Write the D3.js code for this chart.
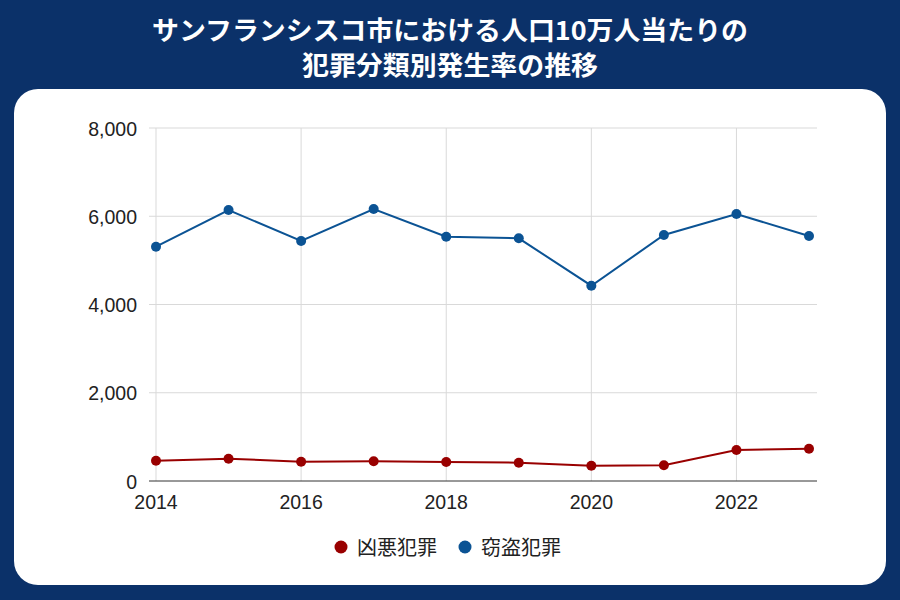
<!DOCTYPE html>
<html><head><meta charset="utf-8">
<script src="https://cdn.jsdelivr.net/npm/d3@7/dist/d3.min.js"></script>
<style>
html,body{margin:0;padding:0;background:#0b3169;}
svg{display:block;}
</style></head>
<body><svg id="c" width="900" height="600"></svg>
<script>
const titleLines = ["サンフランシスコ市における人口10万人当たりの", "犯罪分類別発生率の推移"];
const years = [2014, 2015, 2016, 2017, 2018, 2019, 2020, 2021, 2022, 2023];
const violent = [460, 505, 437, 446, 430, 415, 347, 356, 702, 732];
const theft = [5310, 6142, 5439, 6164, 5537, 5500, 4426, 5575, 6051, 5552];
const seriesNames = ["凶悪犯罪", "窃盗犯罪"];
const seriesColors = ["#990000", "#0b5394"];
const yTicks = [0, 2000, 4000, 6000, 8000];
const xTicks = [2014, 2016, 2018, 2020, 2022];

const svg = d3.select("#c");
svg.append("rect").attr("width",900).attr("height",600).attr("fill","#0b3169");
svg.append("rect").attr("x",14).attr("y",89).attr("width",872).attr("height",496).attr("rx",24).attr("fill","#fff");

const tf = "'Noto Sans CJK JP','Noto Sans',sans-serif";
svg.selectAll("text.title").data(titleLines).enter().append("text")
  .attr("x",450).attr("y",(d,i)=>40+i*35).attr("text-anchor","middle")
  .attr("fill","#fff").attr("font-family",tf).attr("font-weight",700).attr("font-size",26)
  .attr("textLength",(d,i)=>[596,296][i]).attr("lengthAdjust","spacingAndGlyphs")
  .text(d=>d);

const x = d3.scaleLinear().domain([2014,2023]).range([156,809]);
const y = d3.scaleLinear().domain([0,8000]).range([481,128]);
const plotL = 149, plotR = 817;

const g = svg.append("g");
g.selectAll("line.hg").data(yTicks.filter(d=>d>0)).enter().append("line")
  .attr("x1",plotL).attr("x2",plotR).attr("y1",d=>y(d)).attr("y2",d=>y(d))
  .attr("stroke","#d9d9d9").attr("stroke-width",1);
g.selectAll("line.vg").data(xTicks).enter().append("line")
  .attr("x1",d=>x(d)).attr("x2",d=>x(d)).attr("y1",y(8000)).attr("y2",y(0))
  .attr("stroke","#d9d9d9").attr("stroke-width",1);
g.append("line").attr("x1",plotL).attr("x2",plotR).attr("y1",y(0)).attr("y2",y(0))
  .attr("stroke","#333").attr("stroke-width",1);

const lf = "'Liberation Sans', Arial, sans-serif";
const fmt = d3.format(",");
g.selectAll("text.yt").data(yTicks).enter().append("text")
  .attr("x",137).attr("y",d=>y(d)+7.5).attr("text-anchor","end")
  .attr("font-family",lf).attr("font-size",19.5).attr("fill","#222").text(d=>fmt(d));
g.selectAll("text.xt").data(xTicks).enter().append("text")
  .attr("x",d=>x(d)).attr("y",509).attr("text-anchor","middle")
  .attr("font-family",lf).attr("font-size",19.5).attr("fill","#222").text(d=>d);

const series = [violent, theft];
const line = d3.line().x((d,i)=>x(years[i])).y(d=>y(d));
series.forEach((s,k)=>{
  g.append("path").datum(s).attr("d",line).attr("fill","none")
    .attr("stroke",seriesColors[k]).attr("stroke-width",2);
  g.selectAll("circle.s"+k).data(s).enter().append("circle")
    .attr("cx",(d,i)=>x(years[i])).attr("cy",d=>y(d)).attr("r",5)
    .attr("fill",seriesColors[k]);
});

const leg = svg.append("g");
const legX = [341, 465];
seriesNames.forEach((n,k)=>{
  leg.append("circle").attr("cx",legX[k]).attr("cy",547).attr("r",6.5).attr("fill",seriesColors[k]);
  leg.append("text").attr("x",legX[k]+16).attr("y",555).attr("font-family",tf)
    .attr("font-size",20).attr("fill","#222").text(n);
});
</script></body></html>
